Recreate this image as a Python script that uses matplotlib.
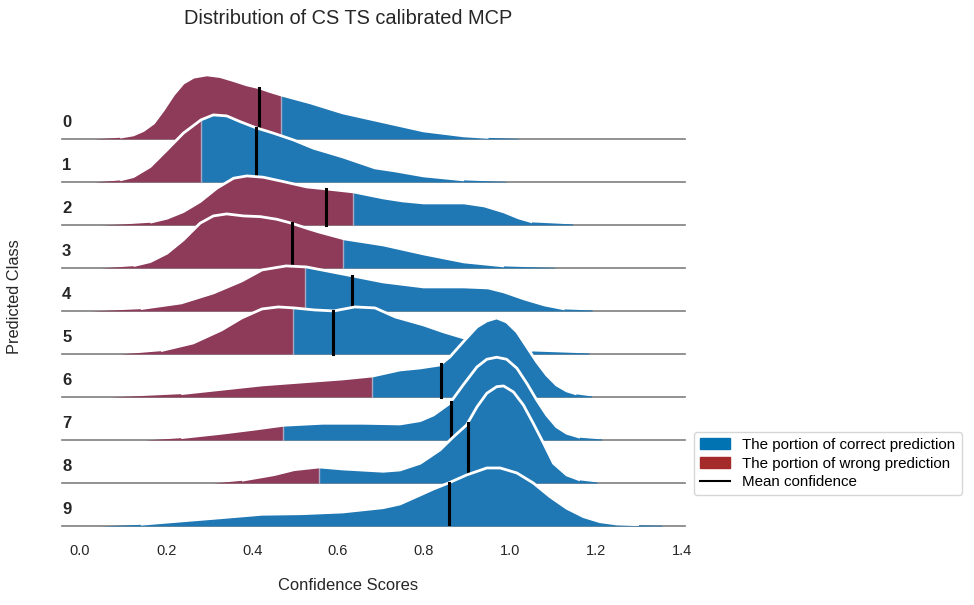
import numpy as np
import matplotlib
matplotlib.use('Agg')
import matplotlib.pyplot as plt
from matplotlib.patches import Patch
from matplotlib.lines import Line2D

plt.rcParams['font.family'] = ['Liberation Sans', 'DejaVu Sans']

# classes, threshold between wrong/correct part and mean confidence
classes = ['0', '1', '2', '3', '4', '5', '6', '7', '8', '9']
split_scores = [0.467, 0.281, 0.634, 0.611, 0.524, 0.496, 0.678, 0.472, 0.556, 0.0]
mean_conf = [0.415, 0.409, 0.571, 0.492, 0.633, 0.588, 0.839, 0.862, 0.902, 0.858]

# density curves (score, density)
x_0 = [0.033, 0.093, 0.124, 0.147, 0.171, 0.194, 0.217, 0.240, 0.264, 0.295, 0.326, 0.357, 0.388, 0.415, 0.442, 0.467, 0.536, 0.611, 0.705, 0.799, 0.893, 0.950, 1.019]
d_0 = [0.0, 1.7, 4, 8.3, 15.7, 29, 44, 55.7, 61.7, 64, 62.3, 58.3, 54, 51.3, 47.3, 44, 36, 26, 17, 8, 3, 1.5, 0.5]
x_1 = [0.033, 0.093, 0.124, 0.163, 0.202, 0.240, 0.271, 0.281, 0.310, 0.341, 0.372, 0.408, 0.450, 0.496, 0.543, 0.611, 0.686, 0.733, 0.799, 0.893, 0.991]
d_1 = [0.0, 2, 5.3, 15.3, 32, 48.7, 58.7, 62, 67, 66, 60.3, 54.3, 48.7, 42, 33.7, 25, 14, 11, 6, 2, 0.5]
x_2 = [0.047, 0.100, 0.163, 0.202, 0.240, 0.279, 0.318, 0.357, 0.388, 0.426, 0.473, 0.527, 0.573, 0.636, 0.705, 0.750, 0.799, 0.893, 0.940, 0.986, 1.020, 1.052, 1.146]
d_2 = [0.0, 1, 2.7, 6.7, 13.3, 23.3, 36.7, 46.7, 49, 47.7, 43.3, 38, 36, 33, 27, 24, 22, 22, 19, 13, 7, 3, 1]
x_3 = [0.047, 0.124, 0.163, 0.202, 0.240, 0.279, 0.310, 0.341, 0.380, 0.419, 0.457, 0.492, 0.527, 0.555, 0.615, 0.705, 0.799, 0.893, 0.986, 1.104]
d_3 = [0.0, 2.3, 6.3, 14.7, 28, 44.7, 52, 54, 52, 51.3, 48.7, 44.7, 39.7, 36, 29, 23, 14, 6, 2, 0.5]
x_4 = [0.024, 0.141, 0.235, 0.310, 0.376, 0.423, 0.479, 0.526, 0.634, 0.705, 0.799, 0.893, 0.949, 0.986, 1.033, 1.080, 1.127, 1.191]
d_4 = [0.0, 2.3, 8, 18, 30, 41, 45, 44, 35, 29, 24, 24, 23, 19, 12, 6, 2, 1]
x_5 = [0.094, 0.188, 0.263, 0.329, 0.376, 0.423, 0.461, 0.498, 0.545, 0.590, 0.639, 0.686, 0.733, 0.799, 0.846, 0.893, 0.940, 0.986, 1.052, 1.184]
d_5 = [0.0, 3.3, 11, 24, 36, 45, 47, 46, 44, 43, 47, 46, 37, 29, 22, 16, 10, 6, 3, 1]
x_6 = [0.071, 0.235, 0.423, 0.611, 0.681, 0.744, 0.791, 0.837, 0.860, 0.891, 0.923, 0.946, 0.969, 0.992, 1.016, 1.039, 1.062, 1.085, 1.108, 1.132, 1.155, 1.190]
d_6 = [0.0, 3.3, 12, 18, 21, 27, 29, 32, 40, 55, 70, 76, 79, 75, 65, 50, 35, 22, 12, 6, 3, 1]
x_7 = [0.151, 0.235, 0.329, 0.404, 0.473, 0.564, 0.658, 0.744, 0.791, 0.822, 0.860, 0.891, 0.923, 0.946, 0.969, 0.992, 1.016, 1.039, 1.062, 1.085, 1.108, 1.132, 1.163, 1.213]
d_7 = [0.0, 2.3, 6.7, 10.7, 14.7, 16.7, 16.7, 16, 19.3, 25, 36.7, 55, 73, 80.7, 82.7, 80.7, 71.7, 56.7, 40, 25, 13.3, 6.7, 2.7, 1]
x_8 = [0.310, 0.376, 0.451, 0.498, 0.556, 0.611, 0.705, 0.744, 0.791, 0.837, 0.868, 0.899, 0.923, 0.946, 0.969, 0.985, 1.008, 1.031, 1.054, 1.078, 1.101, 1.132, 1.163, 1.202]
d_8 = [0.0, 2.7, 8.3, 13.3, 16, 14, 11.7, 13, 19.7, 33, 46, 58, 76, 89.7, 96.3, 97, 91, 78, 59.7, 39.7, 19.7, 8, 3, 1]
x_9 = [0.047, 0.141, 0.235, 0.329, 0.423, 0.517, 0.611, 0.705, 0.744, 0.791, 0.822, 0.857, 0.899, 0.946, 0.977, 1.016, 1.054, 1.093, 1.132, 1.171, 1.209, 1.248, 1.300, 1.353]
d_9 = [0.0, 1.7, 5, 8.3, 11.7, 12.3, 14, 18.3, 22, 31, 37, 43, 51, 58, 58, 53, 43, 29.3, 17.7, 9.3, 4.3, 2, 1.2, 0.7]

xs = [x_0, x_1, x_2, x_3, x_4, x_5, x_6, x_7, x_8, x_9]
ds = [d_0, d_1, d_2, d_3, d_4, d_5, d_6, d_7, d_8, d_9]

ridge_scale = 1 / 43.0  # density units per row
col_ok = '#1f77b4'
col_wrong = '#8e3a59'

fig = plt.figure(figsize=(9.74, 6.05), dpi=100)
ax = fig.add_axes([0.0637, 0.1306, 0.6396, 0.8033])

for i, (x, d) in enumerate(zip(xs, ds)):
    x = np.array(x)
    y = np.array(d) * ridge_scale
    base = -i
    z = 10 + i * 3
    s = split_scores[i]
    ys = np.interp(s, x, y)
    ax.axhline(base, color='#7f7f7f', lw=1.2, zorder=z - 0.5, clip_on=False)
    if s > x[0]:
        lx = np.append(x[x < s], s)
        ly = np.append(y[x < s], ys)
        ax.fill_between(lx, base, base + ly, color=col_wrong, lw=0, zorder=z)
        rx = np.insert(x[x > s], 0, s)
        ry = np.insert(y[x > s], 0, ys)
        ax.fill_between(rx, base, base + ry, color=col_ok, lw=0, zorder=z)
        ax.plot([s, s], [base, base + ys], color='#a8a8c0', lw=1, zorder=z + 0.3)
    else:
        ax.fill_between(x, base, base + y, color=col_ok, lw=0, zorder=z)
    # white outline, left off the very ends so the baseline stays visible
    edge = np.where(np.array(d) > 1.1, base + y, np.nan)
    ax.plot(x, edge, color='white', lw=2, zorder=z + 1,
            solid_joinstyle='round', solid_capstyle='butt')
    m = mean_conf[i]
    ax.plot([m, m], [base, base + np.interp(m, x, y)], color='black', lw=2.2, zorder=z + 2)
    ax.text(-0.042, base + 0.38, classes[i], fontsize=12, fontweight='bold',
            color='#262626', ha='left', va='center')

ax.set_xlim(-0.042, 1.407)
ax.set_ylim(-9, 2.3)
ax.set_xticks([0.0, 0.2, 0.4, 0.6, 0.8, 1.0, 1.2, 1.4])
ax.set_xticklabels(['0.0', '0.2', '0.4', '0.6', '0.8', '1.0', '1.2', '1.4'])
ax.tick_params(axis='x', length=0, pad=13, labelsize=10.5, colors='#262626')
ax.set_yticks([])
for sp in ax.spines.values():
    sp.set_visible(False)

fig.text(348 / 974, 1 - 19 / 605, 'Distribution of CS TS calibrated MCP', fontsize=14.4,
         ha='center', va='center', color='#262626')
fig.text(348 / 974, 1 - 586 / 605, 'Confidence Scores', fontsize=11.9,
         ha='center', va='center', color='#262626')
fig.text(15 / 974, 1 - 297 / 605, 'Predicted Class', fontsize=11.8, rotation=90,
         ha='center', va='center', color='#262626')

handles = [Patch(color='#0173b2', label='The portion of correct prediction'),
           Patch(color='#a52a2a', label='The portion of wrong prediction'),
           Line2D([0], [0], color='black', lw=1.5, label='Mean confidence')]
leg = fig.legend(handles=handles, loc='upper left', bbox_to_anchor=(694 / 974, 1 - 432 / 605),
                 borderaxespad=0, fontsize=10.9, frameon=True, labelspacing=0.3)
leg.get_frame().set_edgecolor('#cccccc')

fig.savefig('out.png', dpi=100)
